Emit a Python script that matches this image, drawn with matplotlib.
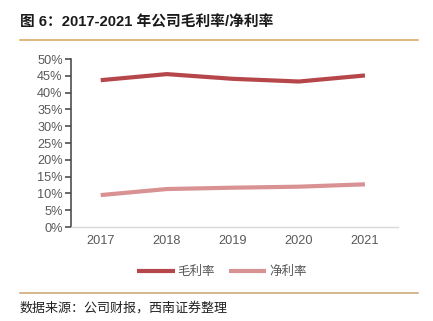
import matplotlib
matplotlib.use("Agg")
import matplotlib.pyplot as plt
from matplotlib.lines import Line2D
from matplotlib.ticker import FuncFormatter, MultipleLocator

years = ["2017", "2018", "2019", "2020", "2021"]
gross_margin = [43.7, 45.5, 44.1, 43.3, 45.1]
net_margin = [9.5, 11.3, 11.7, 12.0, 12.7]
series_names = ["毛利率", "净利率"]
title = "图 6：2017-2021 年公司毛利率/净利率"
source = "数据来源：公司财报，西南证券整理"

plt.rcParams['font.family'] = ['Liberation Sans', 'Noto Sans CJK SC', 'DejaVu Sans']

W, H = 433, 321
fig = plt.figure(figsize=(W / 100, H / 100), dpi=100)

ax = fig.add_axes([71 / W, (H - 227) / H, (398 - 71) / W, (227 - 59) / H])
x = range(len(years))
ax.plot(x, gross_margin, color="#B5474A", lw=3.0, solid_capstyle="butt", label=series_names[0])
ax.plot(x, net_margin, color="#D99294", lw=3.0, solid_capstyle="butt", label=series_names[1])

ax.set_xlim(-0.45, 4.5)
ax.set_ylim(0, 50)
ax.yaxis.set_major_locator(MultipleLocator(5))
ax.yaxis.set_major_formatter(FuncFormatter(lambda v, p: f"{v:.0f}%"))
ax.set_xticks(list(x))
ax.set_xticklabels(years)

for s in ["top", "right"]:
    ax.spines[s].set_visible(False)
ax.spines["left"].set_color("#404040")
ax.spines["left"].set_linewidth(1.1)
ax.spines["bottom"].set_color("#D9D9D9")
ax.spines["bottom"].set_linewidth(1.0)
ax.tick_params(axis="y", direction="out", length=4, width=1.1, color="#404040",
               labelsize=9.2, labelcolor="#595959", pad=2)
ax.tick_params(axis="x", length=0, labelsize=9.2, labelcolor="#595959", pad=6)

leg = fig.legend(loc="center", bbox_to_anchor=(222 / W, (H - 272) / H), ncol=2,
                 frameon=False, fontsize=9, handlelength=3.0, handletextpad=0.25,
                 columnspacing=1.1)
for t in leg.get_texts():
    t.set_color("#595959")

fig.text(20 / W, (H - 23) / H, title, fontsize=10.6, fontweight="bold", color="#1a1a1a",
         ha="left", va="center")
fig.add_artist(Line2D([20 / W, 418 / W], [(H - 40) / H, (H - 40) / H], color="#D8A458", lw=1.1))
fig.add_artist(Line2D([20 / W, 418 / W], [(H - 293) / H, (H - 293) / H], color="#C9A36E", lw=1.1))
fig.text(20 / W, (H - 308) / H, source, fontsize=9.4, style="italic", color="#222222",
         ha="left", va="center")

fig.savefig("out.png", dpi=100)
